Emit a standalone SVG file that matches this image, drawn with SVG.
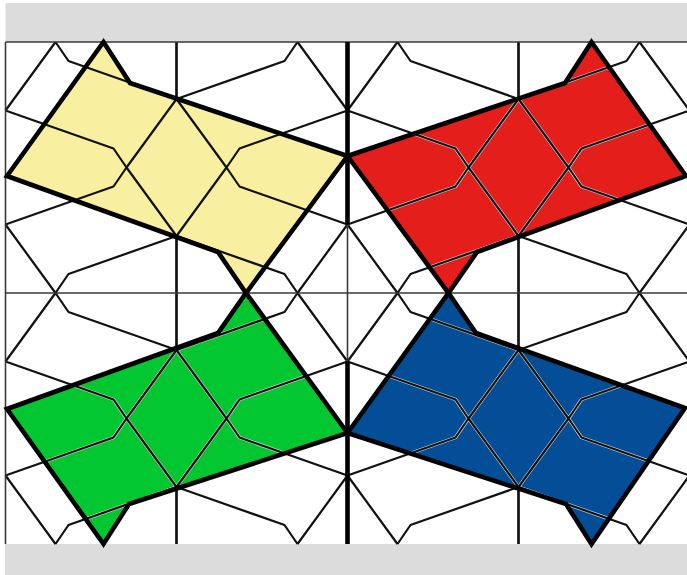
<svg xmlns="http://www.w3.org/2000/svg" xmlns:xlink="http://www.w3.org/1999/xlink" width="687" height="575" viewBox="0 0 687 575">
<style>
.pat{fill:none;stroke:#111;stroke-width:2.2;stroke-linejoin:round}
.halo{fill:none;stroke:#d8d8d8;stroke-width:3.4;stroke-linejoin:round}
.grid{fill:none;stroke:#3a3a3a;stroke-width:1.6}
.thick{fill:none;stroke:#000;stroke-width:4.6;stroke-linejoin:miter}
.band{fill:#dcdcdc}
</style>
<defs>
<path id="fd" d="M50,0L0,68.5M50,0L63,19L171,57M0,68.5L108,106.5L121,125.5L171,57M171,0L171,57"/>
<g id="pattern">
<use href="#fd" transform="matrix(1,0,0,1,5.5,42)"/>
<use href="#fd" transform="matrix(-1,0,0,1,347.5,42)"/>
<use href="#fd" transform="matrix(1,0,0,1,347.5,42)"/>
<use href="#fd" transform="matrix(-1,0,0,1,689.5,42)"/>
<use href="#fd" transform="matrix(1,0,0,-1,5.5,293)"/>
<use href="#fd" transform="matrix(-1,0,0,-1,347.5,293)"/>
<use href="#fd" transform="matrix(1,0,0,-1,347.5,293)"/>
<use href="#fd" transform="matrix(-1,0,0,-1,689.5,293)"/>
<use href="#fd" transform="matrix(1,0,0,1,5.5,293)"/>
<use href="#fd" transform="matrix(-1,0,0,1,347.5,293)"/>
<use href="#fd" transform="matrix(1,0,0,1,347.5,293)"/>
<use href="#fd" transform="matrix(-1,0,0,1,689.5,293)"/>
<use href="#fd" transform="matrix(1,0,0,-1,5.5,544)"/>
<use href="#fd" transform="matrix(-1,0,0,-1,347.5,544)"/>
<use href="#fd" transform="matrix(1,0,0,-1,347.5,544)"/>
<use href="#fd" transform="matrix(-1,0,0,-1,689.5,544)"/>
</g>
<polygon id="t-yellow" points="7,176 103.5,42 130,83 347.5,156 246,293 218,252"/>
<polygon id="t-red" points="686,176 591.5,42 565,83 347.5,156 448.5,293 477,252"/>
<polygon id="t-green" points="7,409 103.5,544 129,504 347.5,433 246,293 218,333"/>
<polygon id="t-blue" points="685,408 591.5,544 566,504 347.5,433 448.5,293 476,333"/>
<clipPath id="clip-dark">
<use href="#t-red"/>
<use href="#t-green"/>
<use href="#t-blue"/>
</clipPath>
</defs>

<g id="background">
<rect x="0" y="0" width="687" height="575" fill="#ffffff"/>
<rect class="band" x="5.5" y="3" width="681.5" height="39"/>
<rect class="band" x="5" y="544" width="682" height="31"/>
</g>

<g id="tiles">
<use id="tile-yellow" href="#t-yellow" fill="#f8f0a0"/>
<use id="tile-red" href="#t-red" fill="#e41e1a"/>
<use id="tile-green" href="#t-green" fill="#03c731"/>
<use id="tile-blue" href="#t-blue" fill="#034e97"/>
</g>

<g id="halo" clip-path="url(#clip-dark)">
<use href="#pattern" class="halo"/>
</g>

<g id="pattern-lines" class="pat">
<use href="#pattern"/>
</g>

<g id="grid">
<path class="grid" d="M5.5,42H687M5.5,293H687M5.5,42V544M347.5,42V544"/>
<path class="thick" d="M347.5,42V224.5M347.5,361.5V544"/>
</g>

<g id="tile-outlines" class="thick">
<use href="#t-yellow"/>
<use href="#t-red"/>
<use href="#t-green"/>
<use href="#t-blue"/>
</g>
</svg>
